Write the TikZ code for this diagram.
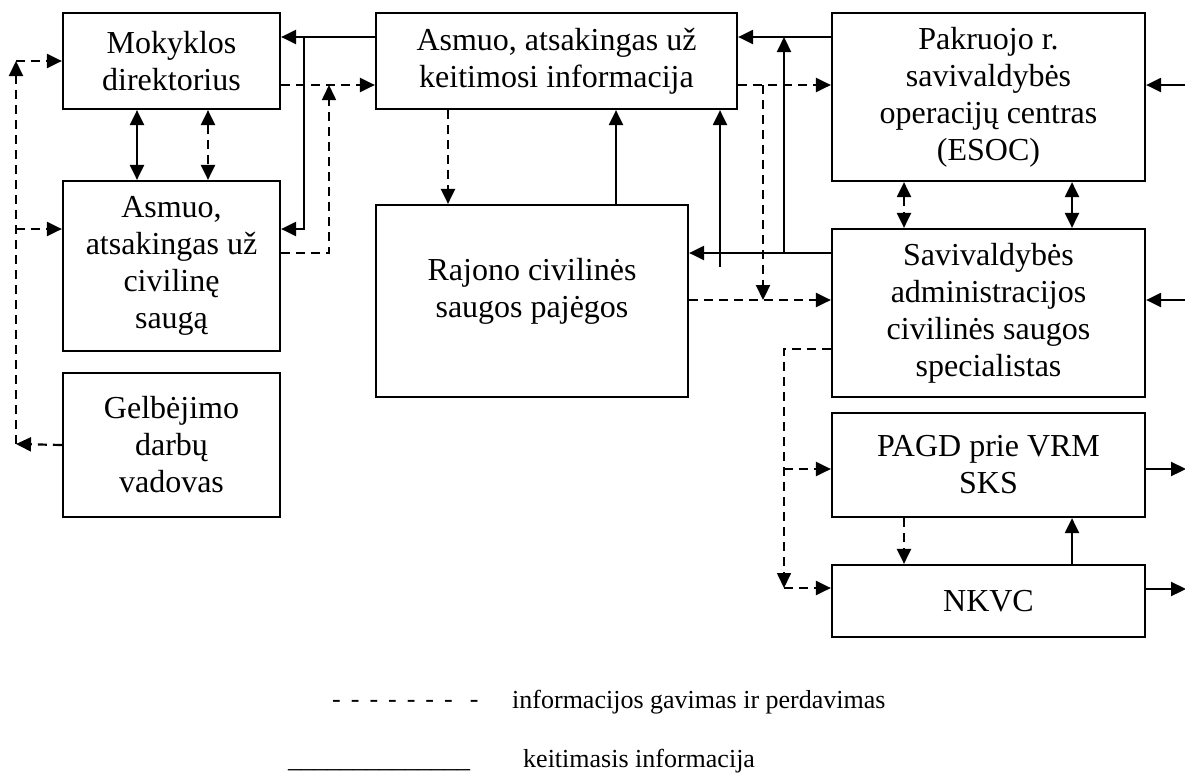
\documentclass[tikz,border=0pt]{standalone}
\usepackage{fontspec}
\setmainfont{Liberation Serif}
\usetikzlibrary{arrows.meta}
\newcommand\boxfont{\fontsize{32}{37}\selectfont}
\newcommand\legfont{\fontsize{26}{30}\selectfont}
\tikzset{
  bx/.style={draw, line width=2.2pt, inner sep=0pt, align=center, font=\boxfont},
  tip/.tip={Triangle[length=15pt,width=14pt]},
  sarr/.style={line width=2.2pt, -tip},
  darr/.style={line width=2.2pt, -tip, dash pattern=on 9pt off 6pt},
  dthin/.style={line width=1.6pt, -tip, dash pattern=on 9pt off 6pt},
  sdbl/.style={line width=2.2pt, tip-tip},
  ddbl/.style={line width=2.2pt, tip-tip, dash pattern=on 9pt off 6pt},
  legtxt/.style={font=\legfont, inner sep=0pt, anchor=base west},
}
\begin{document}
\begin{tikzpicture}[x=1pt,y=-1pt]
\useasboundingbox (0,0) rectangle (1185,772);

% boxes
\node[bx, minimum width=217pt, minimum height=96pt] (mok) at (171.5,61) {Mokyklos\\direktorius};
\node[bx, minimum width=217pt, minimum height=170pt] (civ) at (171.5,266) {Asmuo,\\atsakingas už\\civilinę\\saugą};
\node[bx, minimum width=217pt, minimum height=144pt] (gel) at (171.5,445) {Gelbėjimo\\darbų\\vadovas};
\node[bx, minimum width=361pt, minimum height=96pt] (kei) at (556.5,61) {Asmuo, atsakingas už\\keitimosi informacija};
\node[bx, minimum width=312pt, minimum height=192pt] (raj) at (532,301) {};
\node[font=\boxfont, align=center, inner sep=0pt] (rajtxt) at (532,291) {Rajono civilinės\\saugos pajėgos};
\node[bx, minimum width=313pt, minimum height=168pt] (pak) at (988.5,97) {Pakruojo r.\\savivaldybės\\operacijų centras\\(ESOC)};
\node[bx, minimum width=313pt, minimum height=168pt] (sav) at (988.5,313) {Savivaldybės\\administracijos\\civilinės saugos\\specialistas};
\node[bx, minimum width=313pt, minimum height=104pt] (pagd) at (988.5,465) {PAGD prie VRM\\SKS};
\node[bx, minimum width=313pt, minimum height=72pt] (nkvc) at (988.5,601) {NKVC};

% junction coordinates
\coordinate (j1) at (304,37);
\coordinate (j2) at (329,85);
\coordinate (L1) at (16,444);
\coordinate (L2) at (16,61);
\coordinate (L3) at (16,229);
\coordinate (j3) at (784,253);
\coordinate (j4) at (784,37);
\coordinate (j5) at (720,267);
\coordinate (j6) at (763,85);
\coordinate (j7) at (763,300);
\coordinate (k2) at (784,588);
\coordinate (k3) at (784,469);
\coordinate (R1) at (1186,85);
\coordinate (R2) at (1186,300);
\coordinate (R3) at (1186,469);
\coordinate (R4) at (1186,589);

% left group
\draw[sarr] ([yshift=24pt]kei.west) -- ([yshift=24pt]mok.east);
\draw[sarr] (j1) |- ([yshift=37pt]civ.east);
\draw[darr] ([yshift=-24pt]mok.east) -- ([yshift=-24pt]kei.west);
\draw[dthin] ([yshift=13pt]civ.east) -| (j2);
\draw[darr] (gel.west) -- (L1);
\draw[darr] (L1) -- (L2);
\draw[darr] (L2) -- (mok.west);
\draw[darr] (L3) -- ([yshift=37pt]civ.west);
\draw[sdbl] ([xshift=-34.5pt]mok.south) -- ([xshift=-34.5pt]civ.north);
\draw[ddbl] ([xshift=36.5pt]mok.south) -- ([xshift=36.5pt]civ.north);

% middle
\draw[darr] ([xshift=-108.5pt]kei.south) -- ([xshift=-84pt]raj.north);
\draw[sarr] ([xshift=84pt]raj.north) -- ([xshift=59.5pt]kei.south);
\draw[sarr] ([yshift=60pt]pak.west) -- ([yshift=24pt]kei.east);
\draw[sarr] ([yshift=60pt]sav.west) -- ([yshift=48pt]raj.east);
\draw[sarr] (j3) -- (j4);
\draw[sarr] (j5) -- ([xshift=163.5pt]kei.south);
\draw[darr] ([yshift=-24pt]kei.east) -- ([yshift=12pt]pak.west);
\draw[darr] (j6) -- (j7);
\draw[darr] ([yshift=1pt]raj.east) -- ([yshift=13pt]sav.west);

% right group
\draw[ddbl] ([xshift=-84.5pt]pak.south) -- ([xshift=-84.5pt]sav.north);
\draw[sdbl] ([xshift=83.5pt]pak.south) -- ([xshift=83.5pt]sav.north);
\draw[sarr] (R1) -- ([yshift=12pt]pak.east);
\draw[sarr] (R2) -- ([yshift=13pt]sav.east);
\draw[sarr] ([yshift=-4pt]pagd.east) -- (R3);
\draw[sarr] ([yshift=12pt]nkvc.east) -- (R4);
\draw[dthin] ([yshift=-36pt]sav.west) -| (k2);
\draw[darr] (k2) -- ([yshift=13pt]nkvc.west);
\draw[darr] (k3) -- ([yshift=-4pt]pagd.west);
\draw[darr] ([xshift=-84.5pt]pagd.south) -- ([xshift=-84.5pt]nkvc.north);
\draw[sarr] ([xshift=83.5pt]nkvc.north) -- ([xshift=83.5pt]pagd.south);

% legend
\node[legtxt] (lg1) at (332,707) {\spaceskip=10pt - - - - - - -\hspace{17pt}-};
\node[legtxt] (lg2) at (512,708) {informacijos gavimas ir perdavimas};
\node[legtxt] (lg3) at (288,767) {\_\_\_\_\_\_\_\_\_\_\_\_\_\_};
\node[legtxt] (lg4) at (523,767) {keitimasis informacija};
\end{tikzpicture}
\end{document}
